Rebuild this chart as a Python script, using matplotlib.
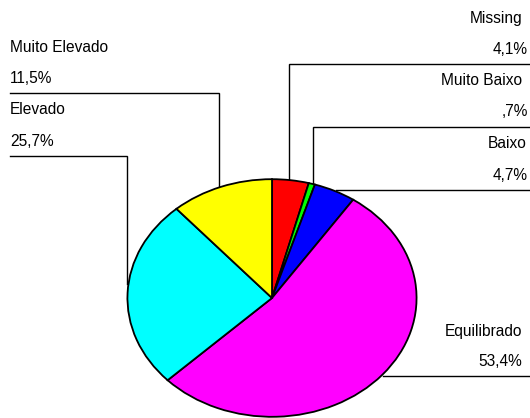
import matplotlib
matplotlib.use('Agg')

import matplotlib.pyplot as plt
import numpy as np

plt.rcParams['font.family'] = ['Liberation Sans', 'DejaVu Sans']

# data (percent), clockwise from 12 o'clock
labels = ['Missing', 'Muito Baixo', 'Baixo', 'Equilibrado', 'Elevado', 'Muito Elevado']
values = [4.1, 0.7, 4.7, 53.4, 25.7, 11.5]
colors = ['#ff0000', '#00ff00', '#0000ff', '#ff00ff', '#00ffff', '#ffff00']


def pct_text(v):
    s = '%.1f' % v
    if s.startswith('0'):
        s = s[1:]
    return s.replace('.', ',') + '%'


# figure in pixels
W, H = 530, 418
fig = plt.figure(figsize=(W / 100, H / 100), dpi=100)

# ellipse of the pie (pixels)
CX, CY, RX, RY = 272, 298, 146, 120

# label / leader layer
lab = fig.add_axes([0, 0, 1, 1])
lab.set_xlim(0, W)
lab.set_ylim(H, 0)
lab.axis('off')


def edge_y(x):
    # top of ellipse at column x
    return CY - RY * np.sqrt(max(0.0, 1 - ((x - CX) / RX) ** 2))


def edge_x(y):
    # right side of ellipse at row y
    return CX + RX * np.sqrt(max(0.0, 1 - ((y - CY) / RY) ** 2))


# layout of labels: (side, name baseline, pct baseline, line y, vertical x or None, text x name, text x pct)
layout = {
    'Missing':       ('r', 22.7, 54.0, 63.8, 289, 522, 528),
    'Muito Baixo':   ('r', 85.0, 116.5, 126.5, 313, 522, 528),
    'Baixo':         ('r', 148.3, 180.0, 190.3, None, 527, 528),
    'Equilibrado':   ('r', 336.0, 366.0, 376.3, None, 522, 522),
    'Elevado':       ('l', 113.7, 146.0, 156.0, 127, 10, 10),
    'Muito Elevado': ('l', 51.7, 83.3, 92.5, 219, 10, 10),
}

fs = 11.2
for name, v in zip(labels, values):
    side, yn, yp, yl, xv, xn, xp = layout[name]
    ha = 'right' if side == 'r' else 'left'
    lab.text(xn, yn, name, ha=ha, va='baseline', fontsize=fs, color='black')
    lab.text(xp, yp, pct_text(v), ha=ha, va='baseline', fontsize=fs, color='black')
    if side == 'r':
        if xv is not None:
            lab.plot([W, xv, xv], [yl, yl, edge_y(xv)], color='black', lw=1.0,
                     solid_joinstyle='miter')
        else:
            lab.plot([W, edge_x(yl)], [yl, yl], color='black', lw=1.0)
    else:
        lab.plot([10, xv, xv], [yl, yl, edge_y(xv)], color='black', lw=1.0,
                 solid_joinstyle='miter')

# pie, stretched into an ellipse
ax = fig.add_axes([(CX - RX) / W, 1 - (CY + RY) / H, 2 * RX / W, 2 * RY / H])
ax.pie(values, colors=colors, startangle=90, counterclock=False, radius=1,
       wedgeprops=dict(edgecolor='black', linewidth=1.3))
ax.set_aspect('auto')
ax.set_xlim(-1.01, 1.01)
ax.set_ylim(-1.01, 1.01)
ax.axis('off')

fig.savefig('out.png', dpi=100)
